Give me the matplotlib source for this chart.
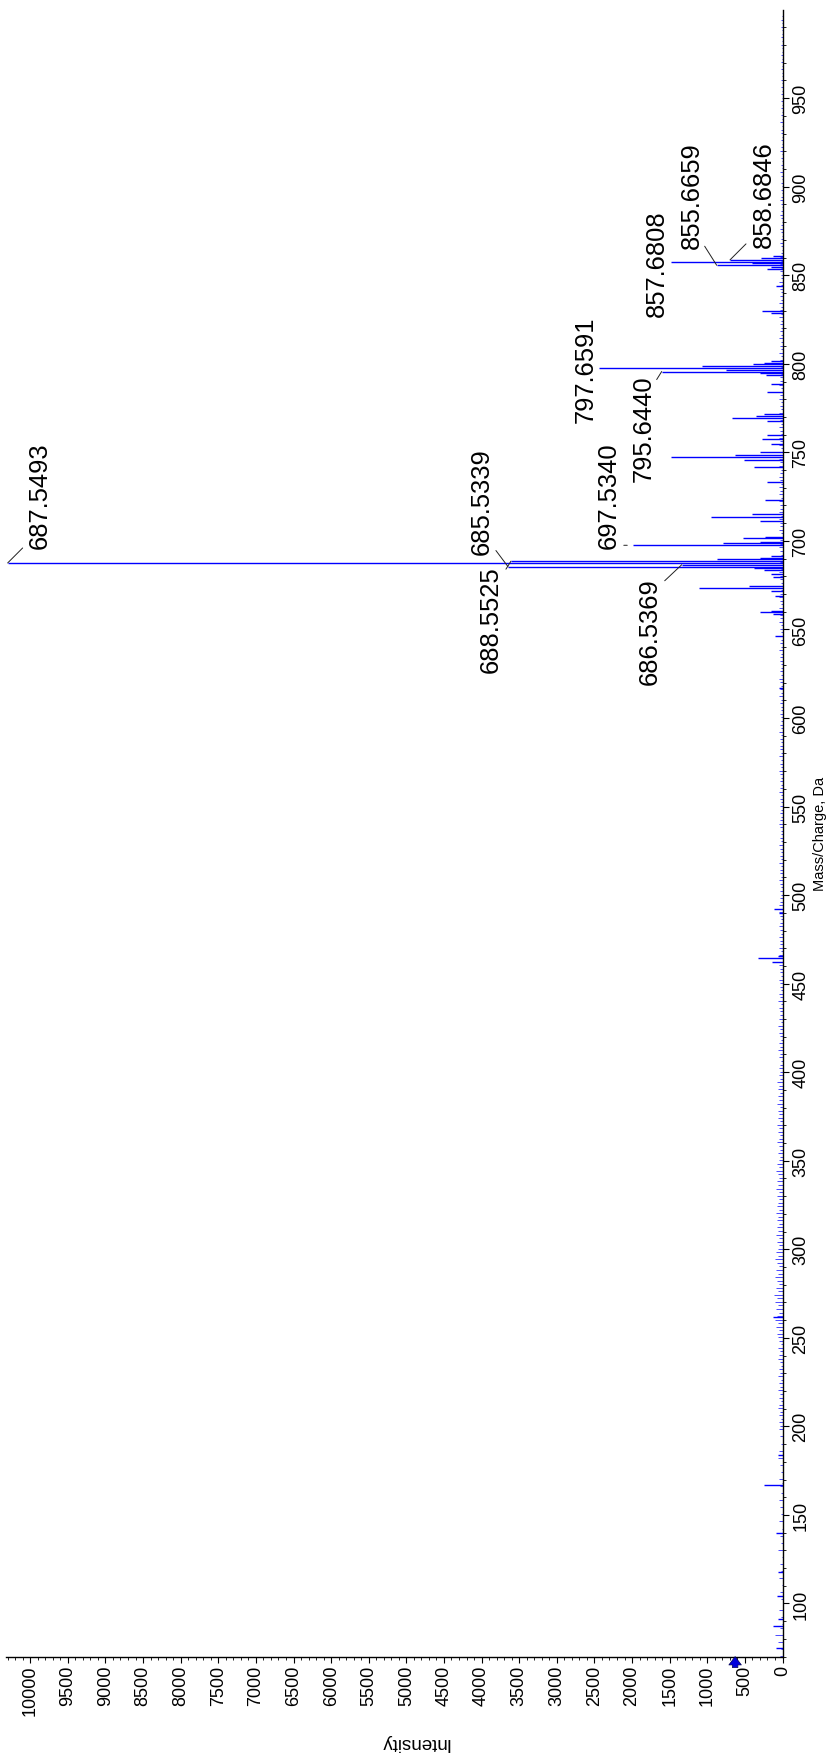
import numpy as np
import matplotlib
matplotlib.use("Agg")
import matplotlib.pyplot as plt
from matplotlib.ticker import MultipleLocator

plt.rcParams['font.family'] = ['Liberation Sans', 'DejaVu Sans']

# peak list: m/z and intensity (counts)
peak_mz = [75.0, 87.0, 91.0, 104.0, 118.0, 140.0, 167.1, 184.1, 262.0,
           462.0, 464.3, 465.6, 490.0, 492.0, 617.0, 646.4,
           658.5, 659.6, 660.5, 669.0, 672.0, 673.5, 674.6, 679.5, 681.5,
           683.5, 684.5, 685.5339, 686.5369, 687.5493, 688.5525, 689.56, 690.56, 691.5,
           697.5340, 698.54, 699.5, 701.4, 702.3, 711.5, 713.5, 715.1, 723.2,
           733.0, 741.5, 745.8, 747.6, 748.6, 750.0, 755.0, 757.5, 760.0,
           767.6, 769.6, 770.6, 771.6, 784.0, 788.5, 793.6, 794.6,
           795.6440, 796.65, 797.6591, 798.66, 799.67, 800.67, 801.7,
           828.6, 829.6, 843.7, 853.6, 854.6, 855.6659, 856.67, 857.6808,
           858.6846, 859.69, 860.7]
peak_int = [90, 130, 60, 70, 60, 90, 250, 60, 120,
            146, 324, 60, 45, 115, 40, 100,
            120, 300, 150, 100, 150, 1106, 445, 120, 150,
            250, 380, 3650, 1340, 10300, 3610, 866, 300, 150,
            1990, 790, 300, 530, 230, 300, 955, 410, 232,
            200, 374, 507, 1482, 631, 300, 150, 276, 200,
            200, 667, 350, 250, 200, 150, 220, 300,
            1606, 751, 2435, 1074, 390, 250, 150,
            150, 277, 80, 200, 150, 875, 410, 1486,
            698, 290, 120]

# baseline noise, one digit per 2 Da starting at 70.3 Da, each digit = 12 counts
noise_start = 70.3
noise_step = 2.0
noise_levels = ("302050803102040"
                "0203010402030105020301040"
                "2030402031402030504020304"
                "3424354243534253423543524"
                "5647586475869574685746857"
                "5464756465746546475645746"
                "4353464354635453645354634"
                "3432435342343524334253423"
                "3423342342433423432342433"
                "2323423324232342322343232"
                "3232432323423242332324232"
                "2322324232342322332423232"
                "3243324234324233423342343"
                "3424334243342434234324343"
                "3243423423342324342433242"
                "2324232423232423242323242"
                "2323232123212321232123212"
                "1212312121321212213121212"
                "121212112121211212112121")

# labelled peaks
label_mz = [687.5493, 685.5339, 688.5525, 686.5369, 697.5340,
            795.6440, 797.6591, 855.6659, 857.6808, 858.6846]
label_int = [10300, 3650, 3610, 1340, 1990, 1606, 2435, 875, 1486, 698]
# text offset and leader end from the peak tip, in pixels (x right, y up)
label_off = [(32, 68), (-26, 66), (-20, -58), (-32, -66), (-24, 51),
             (-18, -56), (-14, -1), (-25, 71), (-14, -1), (34, 66)]
leader_off = [(15, 15), (-12, 16), (-5, -8), (-17, -16), (-9, 0),
              (-5, -8), None, (-12, 19), None, (16, 16)]

threshold = 630

noise_mz = noise_start + noise_step * np.arange(len(noise_levels))
noise_int = np.array([int(c) for c in noise_levels]) * 12

fig = plt.figure(figsize=(8.26, 17.56), dpi=100)
ax = fig.add_axes([0.00726, 0.05604, 0.94008, 0.93770])

ax.hlines(noise_mz, 0, noise_int, colors='#4a4aff', linewidth=0.7)
ax.hlines(peak_mz, 0, peak_int, colors='#0000ff', linewidth=1.0)

for mz, inten, off, lead in zip(label_mz, label_int, label_off, leader_off):
    if lead is not None:
        shrink = 4 if lead[1] == 0 else 0
        ax.annotate('', xy=(inten, mz), xytext=lead, textcoords='offset pixels',
                    arrowprops=dict(arrowstyle='-', color='#202020', lw=0.7,
                                    shrinkA=0, shrinkB=shrink),
                    annotation_clip=False)
    ax.annotate('%.4f' % mz, xy=(inten, mz), xytext=off, textcoords='offset pixels',
                rotation=90, ha='center', va='center', fontsize=18.4,
                annotation_clip=False)

# threshold marker under the intensity axis
ax.annotate('', xy=(threshold, 70), xytext=(0, -11), textcoords='offset pixels',
            arrowprops=dict(arrowstyle='simple,head_width=0.9,head_length=0.6,tail_width=0.4',
                            fc='#0000dd', ec='#000055', lw=0.5, shrinkA=0, shrinkB=0),
            annotation_clip=False)

ax.set_xlim(10322, 0)
ax.set_ylim(70, 999.8)

ax.spines['left'].set_visible(False)
ax.spines['top'].set_visible(False)
for s in ['right', 'bottom']:
    ax.spines[s].set_linewidth(1.0)

ax.xaxis.set_major_locator(MultipleLocator(500))
ax.xaxis.set_minor_locator(MultipleLocator(100))
ax.yaxis.set_major_locator(MultipleLocator(50))
ax.yaxis.set_minor_locator(MultipleLocator(10))
ax.yaxis.tick_right()
ax.tick_params(axis='x', which='major', direction='out', length=4, width=0.8,
               labelsize=13, labelrotation=90, pad=2)
ax.tick_params(axis='x', which='minor', direction='out', length=2, width=0.6)
ax.tick_params(axis='y', which='major', direction='out', length=4, width=0.8,
               labelsize=13, labelrotation=90, pad=3, left=False, right=True)
ax.tick_params(axis='y', which='minor', direction='out', length=2, width=0.6,
               left=False, right=True)
for t in ax.get_yticklabels():
    t.set_verticalalignment('center')

ax.yaxis.set_label_position('right')
ax.set_ylabel('Mass/Charge, Da', fontsize=10.5, rotation=90, labelpad=3)
fig.text(414 / 826, 1 - 1743 / 1756, 'Intensity', rotation=180,
         ha='center', va='center', fontsize=13.5)

fig.savefig('out.png', dpi=100)
